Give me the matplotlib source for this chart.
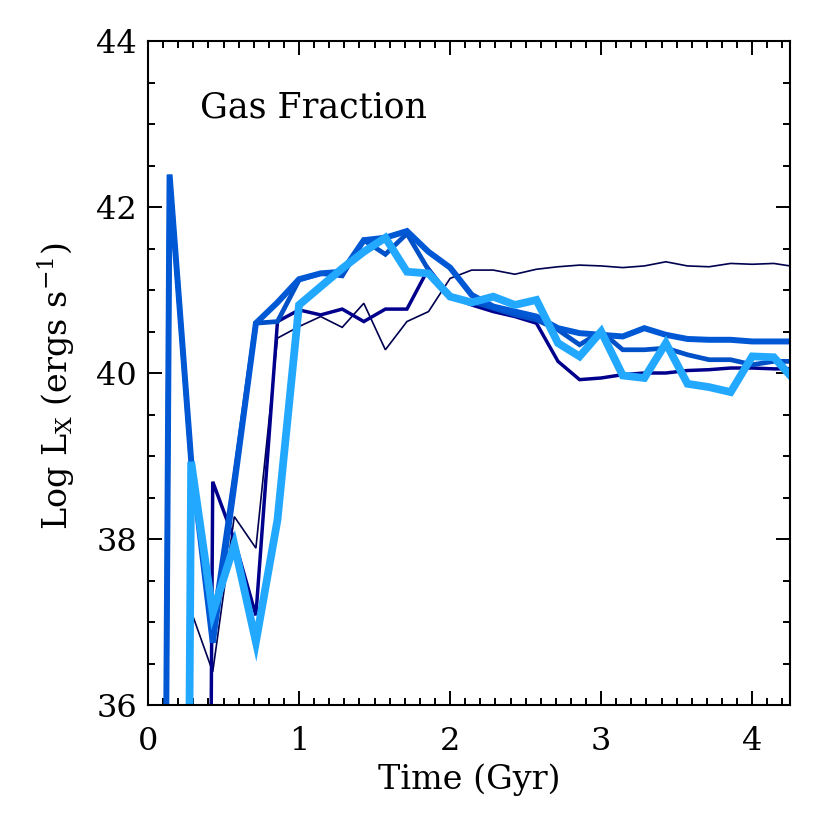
import numpy as np
import matplotlib
matplotlib.use('Agg')
import matplotlib.pyplot as plt
from matplotlib.ticker import MultipleLocator

plt.rcParams['font.family'] = 'DejaVu Serif'
plt.rcParams['mathtext.fontset'] = 'dejavuserif'

# snapshots every 1/7 Gyr; zero means no gas yet (drawn off the bottom)
nsnap = 31
time = np.arange(nsnap) / 7.

lx_thin = [0, 0, 37.13, 36.40, 38.27, 37.89, 40.42, 40.56, 40.68, 40.55,
           40.84, 40.28, 40.62, 40.74, 41.14, 41.24, 41.24, 41.19, 41.25, 41.28,
           41.30, 41.29, 41.27, 41.29, 41.34, 41.29, 41.28, 41.32, 41.31, 41.32,
           41.28]
lx_navy = [0, 0, 0, 38.69, 37.99, 37.08, 40.62, 40.76, 40.70, 40.77,
           40.62, 40.77, 40.77, 41.26, 40.92, 40.82, 40.74, 40.68, 40.60, 40.14,
           39.92, 39.94, 39.98, 40.00, 40.00, 40.03, 40.04, 40.06, 40.06, 40.05,
           40.05]
lx_blue2 = [0, 42.39, 38.93, 36.95, 38.75, 40.60, 40.62, 41.12, 41.20, 41.17,
            41.60, 41.43, 41.68, 41.24, 40.92, 40.86, 40.78, 40.70, 40.64, 40.52,
            40.34, 40.50, 40.28, 40.28, 40.30, 40.22, 40.16, 40.16, 40.10, 40.14,
            40.14]
lx_blue1 = [0, 42.39, 38.95, 36.75, 38.65, 40.60, 40.85, 41.13, 41.20, 41.22,
            41.60, 41.63, 41.71, 41.46, 41.27, 40.94, 40.80, 40.74, 40.68, 40.54,
            40.48, 40.46, 40.44, 40.54, 40.46, 40.41, 40.40, 40.40, 40.38, 40.38,
            40.38]
lx_light = [0, 0, 38.93, 37.11, 37.93, 36.76, 38.23, 40.82, 41.04, 41.26,
            41.46, 41.63, 41.22, 41.20, 40.92, 40.85, 40.92, 40.82, 40.88, 40.36,
            40.20, 40.50, 39.97, 39.94, 40.36, 39.87, 39.83, 39.77, 40.20, 40.19,
            39.90]

series = [lx_thin, lx_navy, lx_blue2, lx_blue1, lx_light]
colors = ['#000050', '#00008C', '#0050C8', '#0058D4', '#22A8FF']
widths = [1.2, 2.5, 3.4, 4.3, 5.6]

fig = plt.figure(figsize=(8.3, 8.3), dpi=100)
ax = fig.add_axes([0.1783, 0.1506, 0.7735, 0.8])

for lx, c, lw in zip(series, colors, widths):
    ax.plot(time, lx, color=c, lw=lw, solid_joinstyle='miter')

ax.set_xlim(0, 4.25)
ax.set_ylim(36, 44)
ax.xaxis.set_major_locator(MultipleLocator(1))
ax.xaxis.set_minor_locator(MultipleLocator(0.1))
ax.yaxis.set_major_locator(MultipleLocator(2))
ax.yaxis.set_minor_locator(MultipleLocator(0.5))
ax.tick_params(which='both', direction='in', top=True, right=True, width=1.4)
ax.tick_params(which='major', length=10, labelsize=23)
ax.tick_params(which='minor', length=5)
ax.tick_params(axis='x', which='major', pad=15)
ax.tick_params(axis='y', which='major', pad=8)
for s in ax.spines.values():
    s.set_linewidth(1.5)

ax.set_xlabel('Time (Gyr)', fontsize=24)
ax.set_ylabel(r'Log L$_{\mathrm{X}}$ (ergs s$^{-1}$)', fontsize=24)
ax.xaxis.set_label_coords(0.5, -0.088)
ax.yaxis.set_label_coords(-0.11, 0.48)

ax.text(0.344, 43.08, 'Gas Fraction', fontsize=25, va='baseline')

fig.savefig('out.png', dpi=100)
